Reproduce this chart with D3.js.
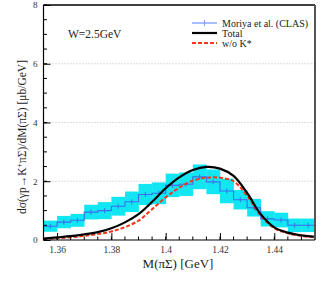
<!DOCTYPE html>
<html>
<head>
<meta charset="utf-8">
<script src="https://cdn.jsdelivr.net/npm/d3@7"></script>
<style>
  body { margin: 0; background: #fff; }
  svg { font-family: 'Liberation Serif', 'DejaVu Serif', serif; }
  .tick text { fill: #333; }
</style>
</head>
<body>
<div id="chart"></div>
<script>
// data
const binEdges = [1.355, 1.36, 1.365, 1.37, 1.375, 1.38, 1.385, 1.39, 1.395, 1.40, 1.405,
  1.41, 1.415, 1.42, 1.425, 1.43, 1.435, 1.44, 1.445, 1.45, 1.455];
const clasValues = [0.47, 0.61, 0.67, 0.95, 1.0, 1.15, 1.3, 1.55, 1.59, 1.86, 1.9,
  2.15, 1.98, 1.67, 1.37, 1.1, 0.72, 0.68, 0.5, 0.5];
const clasErrors = [0.19, 0.21, 0.22, 0.25, 0.29, 0.32, 0.35, 0.36, 0.37, 0.4, 0.4,
  0.42, 0.42, 0.42, 0.33, 0.3, 0.26, 0.25, 0.23, 0.23];
const curveMass = [1.355, 1.36, 1.365, 1.37, 1.375, 1.38, 1.385, 1.39, 1.395, 1.40, 1.405,
  1.41, 1.415, 1.42, 1.425, 1.43, 1.435, 1.44, 1.445, 1.45, 1.455];
const totalValues = [0.05, 0.09, 0.13, 0.19, 0.27, 0.40, 0.6, 0.88, 1.30, 1.76, 2.13,
  2.38, 2.49, 2.43, 2.18, 1.6, 0.88, 0.43, 0.25, 0.16, 0.11];
const noKstarValues = [0.03, 0.06, 0.09, 0.14, 0.2, 0.29, 0.44, 0.66, 1.05, 1.45, 1.78,
  2.02, 2.12, 2.12, 2.0, 1.5, 0.83, 0.4, 0.23, 0.14, 0.09];
const xTicks = [1.36, 1.38, 1.4, 1.42, 1.44];
const yTicks = [0, 2, 4, 6, 8];
const gridValues = [2, 4, 6];

// dimensions
const WIDTH = 327;
const HEIGHT = 284;
const MARGIN_LEFT = 43.5;
const MARGIN_RIGHT = 12;
const MARGIN_TOP = 5;
const MARGIN_BOTTOM = 44;
const innerW = WIDTH - MARGIN_LEFT - MARGIN_RIGHT;
const innerH = HEIGHT - MARGIN_TOP - MARGIN_BOTTOM;

// colors
const BAND_COLOR = '#11e6f2';
const DATA_COLOR = '#3b6cf0';
const LEGEND_BLUE = '#7b9cff';
const RED = '#f2361c';

const scaleX = d3.scaleLinear().domain([1.355, 1.455]).range([0, innerW]);
const scaleY = d3.scaleLinear().domain([0, 8]).range([innerH, 0]);

const $svg = d3.select('#chart').append('svg')
  .attr('width', WIDTH)
  .attr('height', HEIGHT);

const $vis = $svg.append('g')
  .attr('transform', `translate(${MARGIN_LEFT}, ${MARGIN_TOP})`);

// grid
$vis.selectAll('.grid')
  .data(gridValues)
  .join('line')
  .attr('class', 'grid')
  .attr('x1', 0).attr('x2', innerW)
  .attr('y1', (d) => scaleY(d)).attr('y2', (d) => scaleY(d))
  .attr('stroke', '#aaa')
  .attr('stroke-width', 0.8)
  .attr('stroke-dasharray', '1,2');

const bins = clasValues.map((v, i) => ({
  x0: binEdges[i], x1: binEdges[i + 1], v, e: clasErrors[i],
}));

// error bands
$vis.selectAll('.band')
  .data(bins)
  .join('rect')
  .attr('class', 'band')
  .attr('x', (d) => scaleX(d.x0))
  .attr('width', (d) => scaleX(d.x1) - scaleX(d.x0) + 0.3)
  .attr('y', (d) => scaleY(d.v + d.e))
  .attr('height', (d) => scaleY(d.v - d.e) - scaleY(d.v + d.e))
  .attr('fill', BAND_COLOR);

// histogram step line
const stepPts = [];
bins.forEach((d) => {
  stepPts.push([d.x0, d.v]);
  stepPts.push([d.x1, d.v]);
});
$vis.append('path')
  .datum(stepPts)
  .attr('fill', 'none')
  .attr('stroke', DATA_COLOR)
  .attr('stroke-width', 1.1)
  .attr('d', d3.line().x((d) => scaleX(d[0])).y((d) => scaleY(d[1])));

// small centre markers
$vis.selectAll('.marker')
  .data(bins)
  .join('line')
  .attr('class', 'marker')
  .attr('x1', (d) => scaleX((d.x0 + d.x1) / 2))
  .attr('x2', (d) => scaleX((d.x0 + d.x1) / 2))
  .attr('y1', (d) => scaleY(d.v) - 2.5)
  .attr('y2', (d) => scaleY(d.v) + 2.5)
  .attr('stroke', DATA_COLOR)
  .attr('stroke-width', 1);

// curves
const curveLine = d3.line()
  .x((d) => scaleX(d[0]))
  .y((d) => scaleY(d[1]))
  .curve(d3.curveCatmullRom);

$vis.append('path')
  .datum(curveMass.map((m, i) => [m, noKstarValues[i]]))
  .attr('fill', 'none')
  .attr('stroke', RED)
  .attr('stroke-width', 2)
  .attr('stroke-dasharray', '4,2')
  .attr('d', curveLine);

$vis.append('path')
  .datum(curveMass.map((m, i) => [m, totalValues[i]]))
  .attr('fill', 'none')
  .attr('stroke', '#000')
  .attr('stroke-width', 2.2)
  .attr('d', curveLine);

// axes
const minorX = d3.range(1.355, 1.4551, 0.005);
const minorY = d3.range(0, 8.01, 0.5);

const $axisX = $vis.append('g')
  .attr('transform', `translate(0, ${innerH})`)
  .call(d3.axisBottom(scaleX).tickValues(xTicks).tickSize(-7).tickPadding(6)
    .tickFormat((d) => d3.format('')(+d.toFixed(2))));
$axisX.select('.domain').remove();
$axisX.selectAll('.tick line').attr('stroke', '#000');
$axisX.selectAll('.tick text').attr('font-size', 9.5).attr('font-family', 'Liberation Serif');
$vis.append('g').selectAll('line')
  .data(minorX)
  .join('line')
  .attr('x1', (d) => scaleX(d)).attr('x2', (d) => scaleX(d))
  .attr('y1', innerH).attr('y2', innerH - 3.5)
  .attr('stroke', '#000');

const $axisY = $vis.append('g')
  .call(d3.axisLeft(scaleY).tickValues(yTicks).tickSize(-7).tickPadding(6));
$axisY.select('.domain').remove();
$axisY.selectAll('.tick line').attr('stroke', '#000');
$axisY.selectAll('.tick text').attr('font-size', 9).attr('font-family', 'Liberation Serif');
$vis.append('g').selectAll('line')
  .data(minorY)
  .join('line')
  .attr('x1', 0).attr('x2', 3.5)
  .attr('y1', (d) => scaleY(d)).attr('y2', (d) => scaleY(d))
  .attr('stroke', '#000');

// frame
$vis.append('line').attr('x1', 0).attr('x2', innerW).attr('y1', 0).attr('y2', 0)
  .attr('stroke', '#000').attr('stroke-width', 1.5);
$vis.append('line').attr('x1', innerW).attr('x2', innerW).attr('y1', 0).attr('y2', innerH)
  .attr('stroke', '#555').attr('stroke-width', 2);
$vis.append('line').attr('x1', 0).attr('x2', 0).attr('y1', 0).attr('y2', innerH)
  .attr('stroke', '#000').attr('stroke-width', 1.2);
$vis.append('line').attr('x1', 0).attr('x2', innerW).attr('y1', innerH).attr('y2', innerH)
  .attr('stroke', '#000').attr('stroke-width', 1.2);

// titles
$svg.append('text')
  .attr('x', 178).attr('y', 267.5)
  .attr('text-anchor', 'middle')
  .attr('font-size', 13)
  .attr('fill', '#222')
  .text('M(πΣ) [GeV]');

const $yTitle = $svg.append('text')
  .attr('transform', 'translate(26, 137) rotate(-90)')
  .attr('text-anchor', 'middle')
  .attr('font-size', 11.5)
  .attr('fill', '#222');
$yTitle.append('tspan').text('dσ(γp→K');
$yTitle.append('tspan').attr('dy', -4.5).attr('font-size', 8).text('+');
$yTitle.append('tspan').attr('dy', 4.5).text('πΣ)/dM(πΣ) [μb/GeV]');

$svg.append('text')
  .attr('x', 68).attr('y', 38)
  .attr('font-size', 11.5)
  .attr('fill', '#222')
  .text('W=2.5GeV');

// legend
const legendItems = [
  { label: 'Moriya et al. (CLAS)', color: LEGEND_BLUE, dash: null, w: 1.3, tick: true },
  { label: 'Total', color: '#000', dash: null, w: 2.2, tick: false },
  { label: 'w/o K*', color: RED, dash: '4,2', w: 2, tick: false },
];
const $legend = $svg.append('g').attr('transform', 'translate(192, 23)');
legendItems.forEach((d, i) => {
  const y = i * 10;
  $legend.append('line')
    .attr('x1', 0).attr('x2', 25).attr('y1', y).attr('y2', y)
    .attr('stroke', d.color).attr('stroke-width', d.w)
    .attr('stroke-dasharray', d.dash);
  if (d.tick) {
    $legend.append('line')
      .attr('x1', 12.5).attr('x2', 12.5).attr('y1', y - 3).attr('y2', y + 3)
      .attr('stroke', d.color).attr('stroke-width', 1);
  }
  $legend.append('text')
    .attr('x', 30).attr('y', y + 3.5)
    .attr('font-size', 10)
    .attr('fill', '#222')
    .text(d.label);
});
</script>
</body>
</html>
